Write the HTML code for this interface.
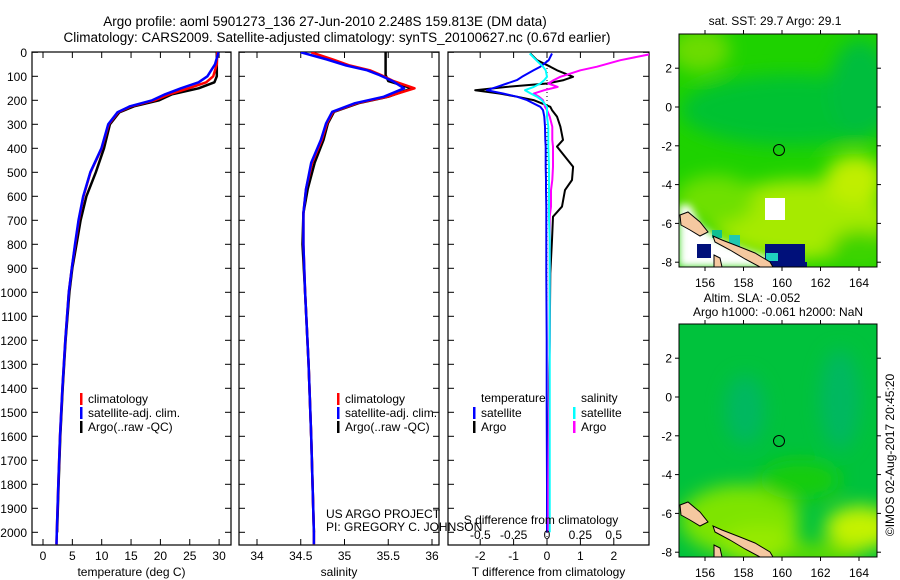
<!DOCTYPE html>
<html><head><meta charset="utf-8"><style>
html,body{margin:0;padding:0;background:#fff;}
svg{display:block;font-family:"Liberation Sans",sans-serif;}
text{fill:#000;}
</style></head><body>
<svg id="fig" width="900" height="580" viewBox="0 0 900 580" xmlns="http://www.w3.org/2000/svg">
<defs>
<clipPath id="c1"><rect x="32" y="52" width="199" height="493"/></clipPath>
<clipPath id="c2"><rect x="239" y="52" width="200" height="493"/></clipPath>
<clipPath id="c3"><rect x="448" y="52" width="201" height="493"/></clipPath>
<clipPath id="m1"><rect x="679" y="34" width="198" height="233"/></clipPath>
<clipPath id="m2"><rect x="679" y="324" width="198" height="233"/></clipPath>
<filter id="bl" x="-50%" y="-50%" width="200%" height="200%"><feGaussianBlur stdDeviation="9"/></filter>
<filter id="bl2" x="-50%" y="-50%" width="200%" height="200%"><feGaussianBlur stdDeviation="4"/></filter>
</defs>
<text x="325" y="26" font-size="13.5" text-anchor="middle">Argo profile: aoml 5901273_136 27-Jun-2010 2.248S 159.813E (DM data)</text>
<text x="337" y="42" font-size="13.5" text-anchor="middle">Climatology: CARS2009. Satellite-adjusted climatology: synTS_20100627.nc (0.67d earlier)</text>
<g id="p1"></g>
<g id="p2"></g>
<g id="p3"></g>
<g id="map1">
 <g clip-path="url(#m1)">
  <rect x="679" y="34" width="198" height="233" fill="#1ed200"/>
  <g filter="url(#bl)">
   <ellipse cx="700" cy="50" rx="30" ry="22" fill="#6cdc00"/>
   <ellipse cx="790" cy="110" rx="110" ry="35" fill="#00c232"/>
   <ellipse cx="860" cy="90" rx="30" ry="50" fill="#00be3c"/>
   <ellipse cx="800" cy="220" rx="90" ry="40" fill="#a6ea00"/>
   <ellipse cx="855" cy="180" rx="30" ry="25" fill="#c0ee00"/>
   <ellipse cx="715" cy="200" rx="40" ry="25" fill="#6ee000"/>
   <ellipse cx="860" cy="250" rx="30" ry="20" fill="#3ed400"/>
  </g>
  <g filter="url(#bl2)"><polygon points="679,205 690,205 700,225 720,240 745,250 770,258 770,267 679,267" fill="#fff"/></g>
  <rect x="765" y="198" width="20" height="22" fill="#fff"/>
  <rect x="729" y="235" width="11" height="12" fill="#20c8b0"/>
  <rect x="712" y="230" width="10" height="8" fill="#10c090"/>
  <rect x="697" y="244" width="14" height="14" fill="#00107a"/>
  <rect x="765" y="244" width="40" height="23" fill="#00107a"/>
  <rect x="766" y="253" width="12" height="8" fill="#20d0c0"/>
  <rect x="793" y="262" width="14" height="5" fill="#00107a"/>
  <polygon points="680,215 688,212 700,222 708,232 700,236 690,230 681,225" fill="#f5c8a0" stroke="#000" stroke-width="1"/>
  <polygon points="713,236 722,240 740,247 755,253 770,262 773,267 760,267 745,259 730,250 715,242" fill="#f5c8a0" stroke="#000" stroke-width="1"/>
  <polygon points="714,255 720,258 722,267 714,267" fill="#f5c8a0" stroke="#000" stroke-width="1"/>
 </g>
 <rect x="679" y="34" width="198" height="233" fill="none" stroke="#000"/>
 <circle cx="779" cy="150" r="5.5" fill="none" stroke="#000"/>
 <text x="775" y="25" font-size="12" text-anchor="middle">sat. SST: 29.7 Argo: 29.1</text>
</g>
<g id="map2">
 <g clip-path="url(#m2)">
  <rect x="679" y="324" width="198" height="233" fill="#00c23c"/>
  <g filter="url(#bl)">
   <ellipse cx="745" cy="410" rx="20" ry="35" fill="#00b860"/>
   <ellipse cx="840" cy="400" rx="20" ry="50" fill="#00b860"/>
   <ellipse cx="740" cy="520" rx="60" ry="35" fill="#7ee400"/>
   <ellipse cx="760" cy="545" rx="40" ry="20" fill="#96ea00"/>
   <ellipse cx="860" cy="528" rx="35" ry="22" fill="#c4f200"/>
   <ellipse cx="820" cy="555" rx="40" ry="12" fill="#60dc00"/>
   <ellipse cx="800" cy="480" rx="40" ry="20" fill="#18cc10"/>
  </g>
  <polygon points="680,505 688,502 700,512 708,522 700,526 690,520 681,515" fill="#f5c8a0" stroke="#000" stroke-width="1"/>
  <polygon points="713,526 722,530 740,537 755,543 770,552 773,557 760,557 745,549 730,540 715,532" fill="#f5c8a0" stroke="#000" stroke-width="1"/>
  <polygon points="714,545 720,548 722,557 714,557" fill="#f5c8a0" stroke="#000" stroke-width="1"/>
 </g>
 <rect x="679" y="324" width="198" height="233" fill="none" stroke="#000"/>
 <circle cx="779" cy="441" r="5.5" fill="none" stroke="#000"/>
 <text x="752" y="302" font-size="12" text-anchor="middle">Altim. SLA: -0.052</text>
 <text x="778" y="316" font-size="12" text-anchor="middle">Argo h1000: -0.061 h2000: NaN</text>
</g>
<text transform="translate(894,455) rotate(-90)" font-size="12" text-anchor="middle">©IMOS 02-Aug-2017 20:45:20</text>
</svg>
<script>
var NS='http://www.w3.org/2000/svg';
// ---- data ----
var depthTicks=[0,100,200,300,400,500,600,700,800,900,1000,1100,1200,1300,1400,1500,1600,1700,1800,1900,2000];
var tempTicks=[0,5,10,15,20,25,30];
var salTicks=[34,34.5,35,35.5,36];
var tdiffTicks=[-2,-1,0,1,2];
var sdiffTicks=[-0.5,-0.25,0,0.25,0.5];
var sdiffTickLabels=['-0.5','-0.25','0','0.25','0.5'];
var profDepth=[0,50,100,125,150,175,200,225,250,300,400,500,600,700,800,900,1000,1200,1400,1600,1800,2000,2050];
var tempClim=[29.7,29.6,29.0,27.8,24.8,21.5,19.0,15.0,12.8,11.2,10.0,8.1,6.9,6.1,5.5,4.9,4.4,3.8,3.3,2.9,2.6,2.35,2.3];
var tempSat=[29.9,29.3,28.0,26.5,23.5,20.8,18.6,14.8,12.7,11.1,9.95,8.05,6.85,6.05,5.45,4.9,4.4,3.8,3.3,2.9,2.6,2.35,2.3];
var tempArgo=[29.6,29.6,29.6,29.2,26.5,22.0,19.8,15.5,13.0,11.4,10.4,9.0,7.4,6.4,5.7,5.0,4.5,3.85,3.35,2.95,2.65,2.4,null];
var salDepth=[0,30,55,75,95,120,150,185,212,248,296,365,460,570,670,800,1000,1300,1600,2000,2050];
var salClim=[34.62,34.87,35.06,35.29,35.42,35.56,35.8,35.49,35.14,34.87,34.8,34.74,34.63,34.56,34.53,34.53,34.55,34.59,34.62,34.65,34.65];
var salSat=[34.5,34.8,35.02,35.26,35.4,35.55,35.68,35.45,35.12,34.86,34.79,34.73,34.62,34.56,34.53,34.53,34.55,34.59,34.62,34.65,34.65];
var salArgo=[35.47,35.47,35.47,35.47,35.47,35.5,35.77,35.5,35.16,34.88,34.81,34.76,34.66,34.58,34.53,34.52,34.55,34.59,34.62,34.65,null];
var diffDepth=[5,33,60,75,102,116,130,144,158,172,185,199,227,241,268,310,365,393,477,532,574,643,685,782,921,1200,1500,1800,2000];
var tDiffArgo=[-0.5,-0.3,0.1,0.3,0.78,0.5,0.0,-1.2,-2.15,-1.4,-0.9,-0.4,0.1,0.15,0.3,0.4,0.48,0.3,0.78,0.75,0.54,0.45,0.18,0.15,0.1,0.08,0.05,0.03,0.02];
var tDiffSat=[0.15,0.05,-0.2,-0.4,-0.75,-0.9,-1.2,-1.5,-1.8,-1.3,-0.9,-0.6,-0.2,-0.12,-0.08,-0.06,-0.05,-0.04,-0.04,-0.03,-0.03,-0.02,-0.02,-0.02,-0.02,-0.01,-0.01,0.0,0.0];
var sDiffArgo=[0.8,0.55,0.375,0.25,0.1,0.05,0.01,0.08,-0.02,-0.1,-0.06,-0.03,-0.015,0.0,0.02,0.04,0.04,0.045,0.045,0.04,0.03,0.03,0.02,0.02,0.02,0.02,0.015,0.01,0.01];
var sDiffSat=[-0.13,-0.08,-0.03,-0.01,0.0,-0.02,-0.05,-0.1,-0.165,-0.12,-0.075,-0.04,0.0,0.0,0.0,0.01,0.01,0.01,0.015,0.015,0.015,0.015,0.015,0.02,0.02,0.02,0.02,0.02,0.02];
var mapLonTicks=[156,158,160,162,164];
var mapLatTicks=[2,0,-2,-4,-6,-8];
// ---- axes ----
var Y0=52.3, YS=0.24, BOT=545;
function yD(d){return Y0+d*YS;}
function xT(t){return 43+t*5.87;}
function xS(s){return 257+(s-34)*87.5;}
function xdT(v){return 547+v*33.4;}
function xdS(v){return 547+v*133.4;}
function mx(lon){return 705+(lon-156)*19.25;}
function my1(lat){return 107-lat*19.4;}
function my2(lat){return 397-lat*19.4;}
function mapN(arr,f){return arr.map(function(v){return v==null?null:f(v);});}
function el(tag,attrs,parent){var e=document.createElementNS(NS,tag);for(var k in attrs)e.setAttribute(k,attrs[k]);parent.appendChild(e);return e;}
function txt(parent,x,y,s,anchor,size){var t=el('text',{x:x,y:y,'font-size':size||12,'text-anchor':anchor||'start'},parent);t.textContent=s;return t;}
function line(parent,xs,ys,color,w,clip){
  var d='',pen=false;
  for(var i=0;i<xs.length;i++){
    if(xs[i]==null||isNaN(xs[i])){pen=false;continue;}
    d+=(pen?'L':'M')+xs[i].toFixed(1)+' '+ys[i].toFixed(1);pen=true;
  }
  return el('path',{d:d,fill:'none',stroke:color,'stroke-width':w,'stroke-linejoin':'round','clip-path':'url(#'+clip+')'},parent);
}
function frame(g,x0,x1,xticks,xf,labels,xlabel,depthLabels){
  el('rect',{x:x0,y:52,width:x1-x0,height:BOT-52,fill:'none',stroke:'#000','stroke-width':1.2},g);
  depthTicks.forEach(function(d){
    var y=yD(d);
    el('line',{x1:x0,x2:x0+6,y1:y,y2:y,stroke:'#000'},g);
    el('line',{x1:x1-6,x2:x1,y1:y,y2:y,stroke:'#000'},g);
    if(depthLabels){var t=txt(g,27,y+4.5,String(d),'end',12);
      
      }
  });
  xticks.forEach(function(v,i){
    var x=xf(v);
    el('line',{x1:x,x2:x,y1:BOT,y2:BOT-6,stroke:'#000'},g);
    el('line',{x1:x,x2:x,y1:52,y2:58,stroke:'#000'},g);
    if(labels){var t=txt(g,x,BOT+15,labels[i],'middle',12);
      
      }
  });
  var xl=txt(g,(x0+x1)/2,BOT+31,xlabel,'middle',12);
  
  
}
function legend(g,x,y,items){
  items.forEach(function(it,i){
    var yy=y+i*14;
    var b=el('rect',{x:x,y:yy-9,width:2.5,height:12,fill:it[1]},g);
    
    
    var t=txt(g,x+8,yy+1,it[0],'start',12);
    
    
  });
}
// panel 1
var g1=document.getElementById('p1');
frame(g1,32,231,tempTicks,xT,tempTicks.map(String),'temperature (deg C)',true);
var l;
l=line(g1,mapN(tempArgo,xT),profDepth.map(yD),'#000',2.5,'c1');


l=line(g1,mapN(tempClim,xT),profDepth.map(yD),'#f00',2.5,'c1');


l=line(g1,mapN(tempSat,xT),profDepth.map(yD),'#00f',2.5,'c1');


legend(g1,80,402,[['climatology','#f00'],['satellite-adj. clim.','#00f'],['Argo(..raw -QC)','#000']]);
// panel 2
var g2=document.getElementById('p2');
frame(g2,239,439,salTicks,xS,['34','34.5','35','35.5','36'],'salinity',false);
l=line(g2,mapN(salArgo,xS),salDepth.map(yD),'#000',2.5,'c2');


l=line(g2,mapN(salClim,xS),salDepth.map(yD),'#f00',2.5,'c2');


l=line(g2,mapN(salSat,xS),salDepth.map(yD),'#00f',2.5,'c2');


legend(g2,337,402,[['climatology','#f00'],['satellite-adj. clim.','#00f'],['Argo(..raw -QC)','#000']]);
var pi1=txt(g2,326,518,'US ARGO PROJECT','start',12);


var pi2=txt(g2,326,531,'PI: GREGORY C. JOHNSON','start',12);


// panel 3
var g3=document.getElementById('p3');
frame(g3,448,649,tdiffTicks,xdT,tdiffTicks.map(String),'T difference from climatology',false);
el('line',{x1:547,x2:547,y1:52,y2:BOT,stroke:'#000','stroke-dasharray':'1,3'},g3);
l=line(g3,mapN(tDiffArgo,xdT),diffDepth.map(yD),'#000',2,'c3');


l=line(g3,mapN(tDiffSat,xdT),diffDepth.map(yD),'#00f',2,'c3');


l=line(g3,mapN(sDiffArgo,xdS),diffDepth.map(yD),'#f0f',2,'c3');


l=line(g3,mapN(sDiffSat,xdS),diffDepth.map(yD),'#0ff',2,'c3');


sdiffTicks.forEach(function(v,i){
  var t=txt(g3,xdS(v),BOT-6,sdiffTickLabels[i],'middle',12);
  
  
});
var st=txt(g3,541,524,'S difference from climatology','middle',12);


var h1=txt(g3,481,402,'temperature','start',12);


var h2=txt(g3,581,402,'salinity','start',12);


legend(g3,473,416,[['satellite','#00f'],['Argo','#000']]);
legend(g3,573,416,[['satellite','#0ff'],['Argo','#f0f']]);
// maps axes
function mapAxes(g,top,myf,labY){
  mapLonTicks.forEach(function(v){
    var x=mx(v);
    el('line',{x1:x,x2:x,y1:top,y2:top-4,stroke:'#000'},g);
    el('line',{x1:x,x2:x,y1:top+233,y2:top+237,stroke:'#000'},g);
    var t=txt(g,x,labY,String(v),'middle',12);
    
    
  });
  mapLatTicks.forEach(function(v){
    var y=myf(v);
    el('line',{x1:675,x2:679,y1:y,y2:y,stroke:'#000'},g);
    el('line',{x1:877,x2:881,y1:y,y2:y,stroke:'#000'},g);
    var t=txt(g,672,y+4.5,String(v),'end',12);
    
    
  });
}
mapAxes(document.getElementById('map1'),34,my1,287);
mapAxes(document.getElementById('map2'),324,my2,577);
</script>
</body></html>
